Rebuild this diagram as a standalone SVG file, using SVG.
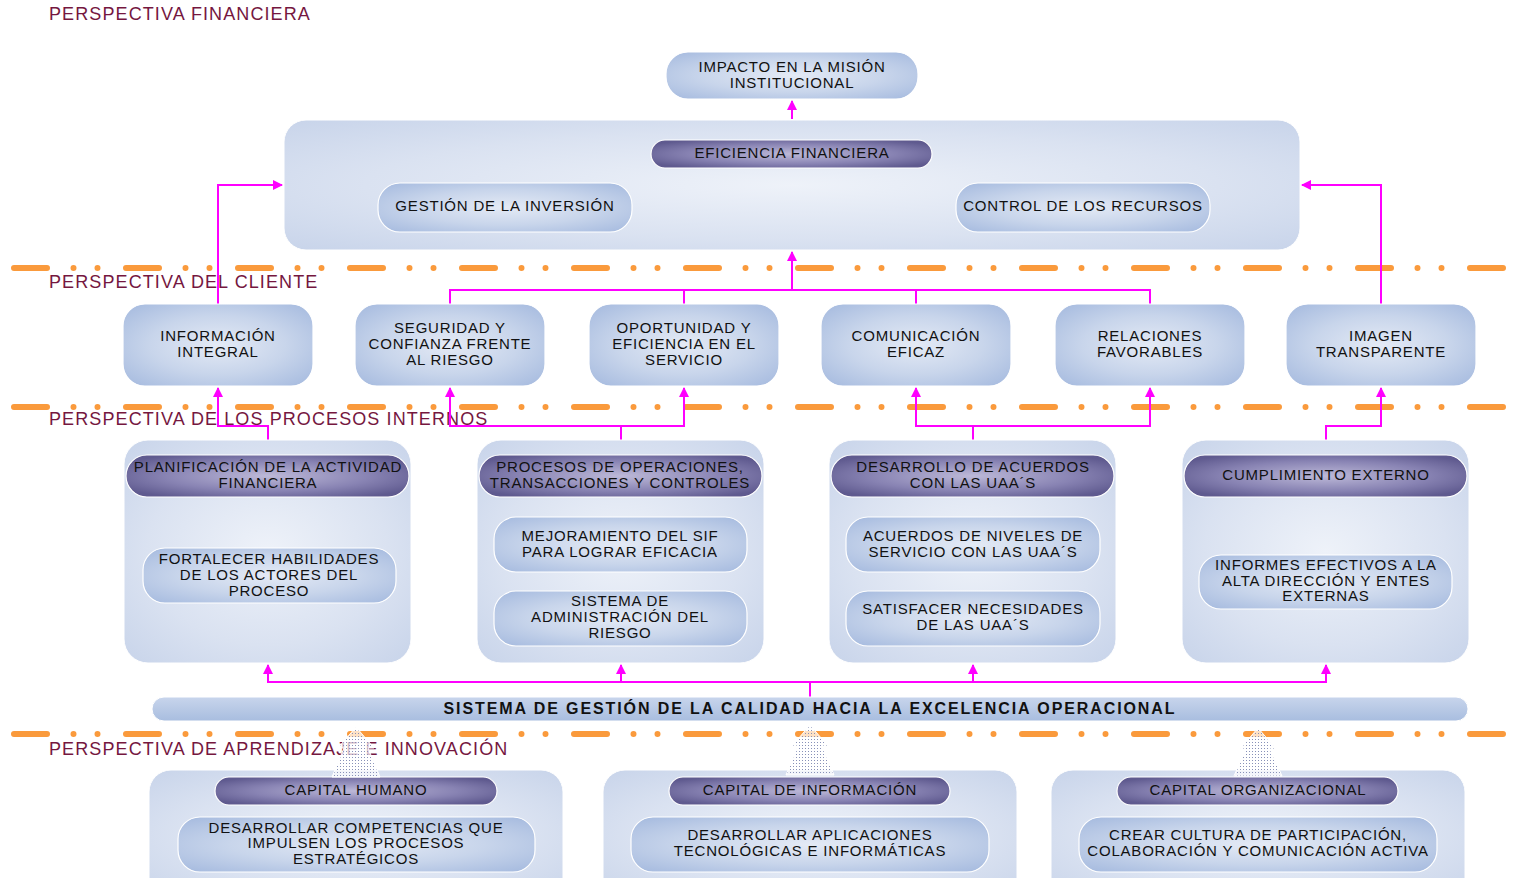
<svg xmlns="http://www.w3.org/2000/svg" width="1526" height="878" viewBox="0 0 1526 878">
  <defs>
    <radialGradient id="gBox" cx="50%" cy="50%" r="65%">
      <stop offset="0" stop-color="#e4eaf5"/>
      <stop offset="0.55" stop-color="#c8d5eb"/>
      <stop offset="1" stop-color="#a9bde0"/>
    </radialGradient>
    <radialGradient id="gPanel" cx="50%" cy="50%" r="70%">
      <stop offset="0" stop-color="#eef2f9"/>
      <stop offset="0.6" stop-color="#dae2f1"/>
      <stop offset="1" stop-color="#c8d4ea"/>
    </radialGradient>
    <radialGradient id="gPill" cx="50%" cy="50%" r="60%">
      <stop offset="0" stop-color="#bdb9d8"/>
      <stop offset="0.6" stop-color="#8883b3"/>
      <stop offset="1" stop-color="#5f5a8f"/>
    </radialGradient>
    <linearGradient id="gBar" x1="0" y1="0" x2="0" y2="1">
      <stop offset="0" stop-color="#c8d5ec"/>
      <stop offset="1" stop-color="#a8bddf"/>
    </linearGradient>
    <pattern id="pDots" width="3" height="3" patternUnits="userSpaceOnUse">
      <rect width="3" height="3" fill="#ffffff" fill-opacity="0.7"/>
      <rect x="1" y="1" width="1" height="1" fill="#8891b8"/>
    </pattern>
    <marker id="arr" viewBox="0 0 10 10" refX="9" refY="5" markerWidth="10" markerHeight="10" markerUnits="userSpaceOnUse" orient="auto">
      <path d="M0,0 L10,5 L0,10 Z" fill="#ff00ff"/>
    </marker>
  </defs>
  <style>
    text { font-family: "Liberation Sans", Arial, sans-serif; fill: #111; }
    .t { font-size: 15px; letter-spacing: 0.8px; text-anchor: middle; }
    .persp { font-size: 18px; letter-spacing: 1.1px; fill: #75173f; }
    .bar { font-size: 16px; font-weight: bold; letter-spacing: 1.9px; text-anchor: middle; }
    .box { fill: url(#gBox); stroke: #ffffff; stroke-width: 1.2; }
    .panel { fill: url(#gPanel); stroke: #ffffff; stroke-width: 1; }
    .pill { fill: url(#gPill); stroke: #ffffff; stroke-width: 1.2; }
    .sep { fill: none; stroke: #fa9a3c; stroke-width: 6; stroke-linecap: round; stroke-dasharray: 33 26.5 0 24 0 28.5; }
    .conn { fill: none; stroke: #ff00ff; stroke-width: 2; }
    .dotarrow { fill: url(#pDots); stroke: #ffffff; stroke-width: 1; }
  </style>

  <!-- perspective separators -->
  <g id="separators">
    <line class="sep" x1="14" y1="268" x2="1506" y2="268"/>
    <line class="sep" x1="14" y1="407" x2="1506" y2="407"/>
    <line class="sep" x1="14" y1="734" x2="1506" y2="734"/>
  </g>

  <!-- perspective titles -->
  <g id="perspectives">
    <text class="persp" x="49" y="20">PERSPECTIVA FINANCIERA</text>
    <text class="persp" x="49" y="288">PERSPECTIVA DEL CLIENTE</text>
    <text class="persp" x="49" y="425">PERSPECTIVA DE LOS PROCESOS INTERNOS</text>
    <text class="persp" x="49" y="755">PERSPECTIVA DE APRENDIZAJE E INNOVACIÓN</text>
  </g>

  <!-- connectors -->
  <g id="connectors">
    <polyline class="conn" points="792,119 792,101" marker-end="url(#arr)"/>
    <polyline class="conn" points="218,304 218,185 282,185" marker-end="url(#arr)"/>
    <polyline class="conn" points="1381,304 1381,185 1302,185" marker-end="url(#arr)"/>
    <polyline class="conn" points="450,304 450,290 1150,290 1150,304"/>
    <line class="conn" x1="684" y1="290" x2="684" y2="304"/>
    <line class="conn" x1="916" y1="290" x2="916" y2="304"/>
    <polyline class="conn" points="792,290 792,252" marker-end="url(#arr)"/>

    <polyline class="conn" points="268,440 268,426 218,426 218,388" marker-end="url(#arr)"/>
    <polyline class="conn" points="621,440 621,426 450,426 450,388" marker-end="url(#arr)"/>
    <polyline class="conn" points="621,426 684,426 684,388" marker-end="url(#arr)"/>
    <polyline class="conn" points="973,440 973,426 916,426 916,388" marker-end="url(#arr)"/>
    <polyline class="conn" points="973,426 1150,426 1150,388" marker-end="url(#arr)"/>
    <polyline class="conn" points="1326,440 1326,426 1381,426 1381,388" marker-end="url(#arr)"/>

    <polyline class="conn" points="810,697 810,682 268,682 268,665" marker-end="url(#arr)"/>
    <polyline class="conn" points="810,682 1326,682 1326,665" marker-end="url(#arr)"/>
    <polyline class="conn" points="621,682 621,665" marker-end="url(#arr)"/>
    <polyline class="conn" points="973,682 973,665" marker-end="url(#arr)"/>
  </g>

  <!-- financial perspective -->
  <g id="impacto">
    <rect class="box" x="666" y="52" width="252" height="47" rx="22"/>
    <text class="t" x="792" y="72">IMPACTO EN LA MISIÓN</text>
    <text class="t" x="792" y="88">INSTITUCIONAL</text>
  </g>
  <g id="financiera">
    <rect class="panel" x="284" y="120" width="1016" height="130" rx="22"/>
  </g>
  <g id="eficiencia-financiera">
    <rect class="pill" x="651" y="140" width="281" height="28" rx="14"/>
    <text class="t" x="792" y="158">EFICIENCIA FINANCIERA</text>
  </g>
  <g id="gestion-inversion">
    <rect class="box" x="378" y="183" width="254" height="49" rx="22"/>
    <text class="t" x="505" y="211">GESTIÓN DE LA INVERSIÓN</text>
  </g>
  <g id="control-recursos">
    <rect class="box" x="956" y="183" width="254" height="49" rx="22"/>
    <text class="t" x="1083" y="211">CONTROL DE LOS RECURSOS</text>
  </g>

  <!-- client perspective -->
  <g id="informacion-integral">
    <rect class="box" x="123" y="304" width="190" height="82" rx="22"/>
    <text class="t" x="218" y="341">INFORMACIÓN</text>
    <text class="t" x="218" y="357">INTEGRAL</text>
  </g>
  <g id="seguridad-confianza">
    <rect class="box" x="355" y="304" width="190" height="82" rx="22"/>
    <text class="t" x="450" y="333">SEGURIDAD Y</text>
    <text class="t" x="450" y="349">CONFIANZA FRENTE</text>
    <text class="t" x="450" y="365">AL RIESGO</text>
  </g>
  <g id="oportunidad-eficiencia">
    <rect class="box" x="589" y="304" width="190" height="82" rx="22"/>
    <text class="t" x="684" y="333">OPORTUNIDAD Y</text>
    <text class="t" x="684" y="349">EFICIENCIA EN EL</text>
    <text class="t" x="684" y="365">SERVICIO</text>
  </g>
  <g id="comunicacion-eficaz">
    <rect class="box" x="821" y="304" width="190" height="82" rx="22"/>
    <text class="t" x="916" y="341">COMUNICACIÓN</text>
    <text class="t" x="916" y="357">EFICAZ</text>
  </g>
  <g id="relaciones-favorables">
    <rect class="box" x="1055" y="304" width="190" height="82" rx="22"/>
    <text class="t" x="1150" y="341">RELACIONES</text>
    <text class="t" x="1150" y="357">FAVORABLES</text>
  </g>
  <g id="imagen-transparente">
    <rect class="box" x="1286" y="304" width="190" height="82" rx="22"/>
    <text class="t" x="1381" y="341">IMAGEN</text>
    <text class="t" x="1381" y="357">TRANSPARENTE</text>
  </g>

  <!-- internal processes perspective -->
  <g id="planificacion">
    <rect class="panel" x="124" y="440" width="287" height="223" rx="24"/>
    <rect class="pill" x="126" y="455" width="283" height="42" rx="21"/>
    <text class="t" x="268" y="472">PLANIFICACIÓN DE LA ACTIVIDAD</text>
    <text class="t" x="268" y="488">FINANCIERA</text>
    <rect class="box" x="143" y="548" width="253" height="55" rx="22"/>
    <text class="t" x="269" y="564">FORTALECER HABILIDADES</text>
    <text class="t" x="269" y="580">DE LOS ACTORES DEL</text>
    <text class="t" x="269" y="596">PROCESO</text>
  </g>
  <g id="procesos-operaciones">
    <rect class="panel" x="477" y="440" width="287" height="223" rx="24"/>
    <rect class="pill" x="479" y="455" width="283" height="42" rx="21"/>
    <text class="t" x="620" y="472">PROCESOS DE OPERACIONES,</text>
    <text class="t" x="620" y="488">TRANSACCIONES Y CONTROLES</text>
    <rect class="box" x="494" y="517" width="253" height="55" rx="22"/>
    <text class="t" x="620" y="541">MEJORAMIENTO DEL SIF</text>
    <text class="t" x="620" y="557">PARA LOGRAR EFICACIA</text>
    <rect class="box" x="494" y="591" width="253" height="55" rx="22"/>
    <text class="t" x="620" y="606">SISTEMA DE</text>
    <text class="t" x="620" y="622">ADMINISTRACIÓN DEL</text>
    <text class="t" x="620" y="638">RIESGO</text>
  </g>
  <g id="desarrollo-acuerdos">
    <rect class="panel" x="829" y="440" width="287" height="223" rx="24"/>
    <rect class="pill" x="831" y="455" width="283" height="42" rx="21"/>
    <text class="t" x="973" y="472">DESARROLLO DE ACUERDOS</text>
    <text class="t" x="973" y="488">CON LAS UAA´S</text>
    <rect class="box" x="846" y="517" width="254" height="55" rx="22"/>
    <text class="t" x="973" y="541">ACUERDOS DE NIVELES DE</text>
    <text class="t" x="973" y="557">SERVICIO CON LAS UAA´S</text>
    <rect class="box" x="846" y="591" width="254" height="55" rx="22"/>
    <text class="t" x="973" y="614">SATISFACER NECESIDADES</text>
    <text class="t" x="973" y="630">DE LAS UAA´S</text>
  </g>
  <g id="cumplimiento-externo">
    <rect class="panel" x="1182" y="440" width="287" height="223" rx="24"/>
    <rect class="pill" x="1184" y="455" width="283" height="42" rx="21"/>
    <text class="t" x="1326" y="480">CUMPLIMIENTO EXTERNO</text>
    <rect class="box" x="1199" y="555" width="253" height="54" rx="22"/>
    <text class="t" x="1326" y="570">INFORMES EFECTIVOS A LA</text>
    <text class="t" x="1326" y="586">ALTA DIRECCIÓN Y ENTES</text>
    <text class="t" x="1326" y="601">EXTERNAS</text>
  </g>

  <!-- quality management bar -->
  <g id="sistema-gestion-calidad">
    <rect x="152" y="697" width="1316" height="24" rx="12" fill="url(#gBar)" stroke="#ffffff" stroke-width="1"/>
    <text class="bar" x="810" y="714">SISTEMA DE GESTIÓN DE LA CALIDAD HACIA LA EXCELENCIA OPERACIONAL</text>
  </g>

  <!-- learning and growth perspective -->
  <g id="capital-humano">
    <rect class="panel" x="149" y="770" width="414" height="130" rx="22"/>
    <rect class="pill" x="215" y="777" width="282" height="28" rx="14"/>
    <text class="t" x="356" y="795">CAPITAL HUMANO</text>
    <rect class="box" x="178" y="817" width="357" height="55" rx="22"/>
    <text class="t" x="356" y="833">DESARROLLAR COMPETENCIAS QUE</text>
    <text class="t" x="356" y="848">IMPULSEN LOS PROCESOS</text>
    <text class="t" x="356" y="864">ESTRATÉGICOS</text>
  </g>
  <g id="capital-informacion">
    <rect class="panel" x="603" y="770" width="414" height="130" rx="22"/>
    <rect class="pill" x="669" y="777" width="281" height="28" rx="14"/>
    <text class="t" x="810" y="795">CAPITAL DE INFORMACIÓN</text>
    <rect class="box" x="631" y="817" width="358" height="55" rx="22"/>
    <text class="t" x="810" y="840">DESARROLLAR APLICACIONES</text>
    <text class="t" x="810" y="856">TECNOLÓGICAS E INFORMÁTICAS</text>
  </g>
  <g id="capital-organizacional">
    <rect class="panel" x="1051" y="770" width="414" height="130" rx="22"/>
    <rect class="pill" x="1117" y="777" width="281" height="28" rx="14"/>
    <text class="t" x="1258" y="795">CAPITAL ORGANIZACIONAL</text>
    <rect class="box" x="1079" y="817" width="358" height="55" rx="22"/>
    <text class="t" x="1258" y="840">CREAR CULTURA DE PARTICIPACIÓN,</text>
    <text class="t" x="1258" y="856">COLABORACIÓN Y COMUNICACIÓN ACTIVA</text>
  </g>

  <!-- stippled upward arrows towards the quality bar -->
  <g id="support-arrows">
    <polygon class="dotarrow" points="356,727 374,748 368,748 380,777 332,777 344,748 338,748"/>
    <polygon class="dotarrow" points="810,725 828,746 822,746 834,775 786,775 798,746 792,746"/>
    <polygon class="dotarrow" points="1258,728 1276,749 1270,749 1282,776 1234,776 1246,749 1240,749"/>
  </g>
</svg>
